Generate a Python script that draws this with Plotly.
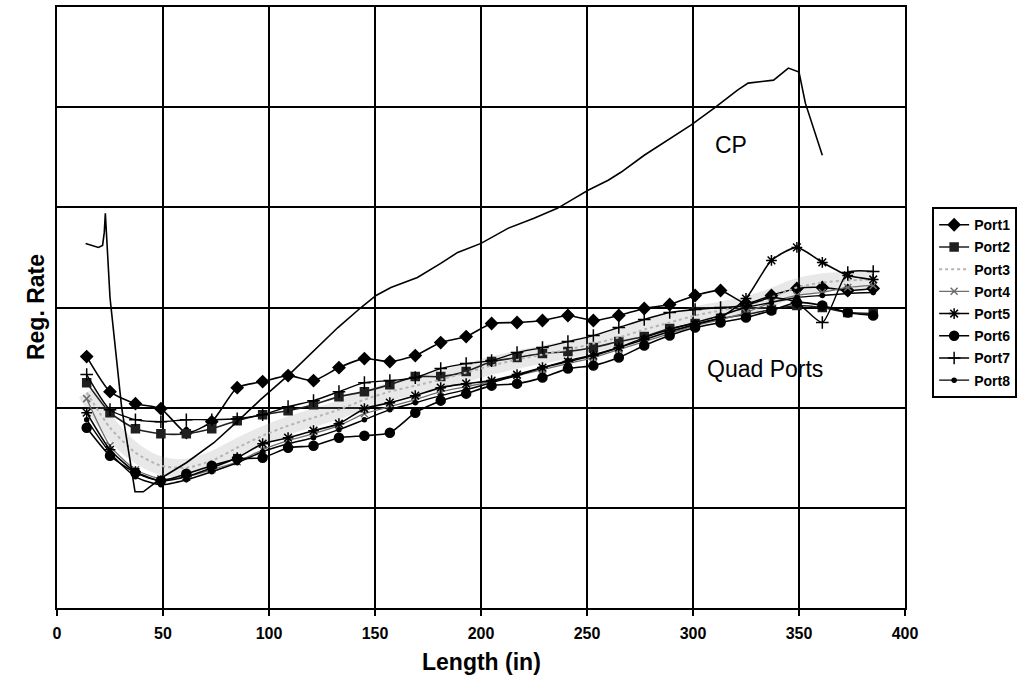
import plotly.graph_objects as go

# Measurement stations along the length (in)
length = [14, 25, 37, 49, 61, 73, 85, 97, 109, 121, 133, 145, 157, 169, 181, 193,
          205, 217, 229, 241, 253, 265, 277, 289, 301, 313, 325, 337, 349, 361, 373, 385]

# Regression rate per quad port
port1 = [2.51, 2.16, 2.04, 1.99, 1.75, 1.86, 2.20, 2.26, 2.32, 2.27, 2.40, 2.49, 2.46, 2.52, 2.65, 2.71,
         2.84, 2.85, 2.87, 2.92, 2.87, 2.92, 2.99, 3.03, 3.12, 3.17, 3.04, 3.12, 3.19, 3.20, 3.17, 3.19]
port2 = [2.25, 1.95, 1.79, 1.74, 1.74, 1.79, 1.87, 1.93, 1.97, 2.03, 2.11, 2.16, 2.23, 2.31, 2.31, 2.36,
         2.46, 2.50, 2.54, 2.56, 2.60, 2.66, 2.71, 2.79, 2.84, 2.89, 2.93, 2.98, 3.02, 3.00, 2.95, 2.94]
port3 = [2.15, 1.80, 1.55, 1.42, 1.40, 1.47, 1.60, 1.72, 1.82, 1.90, 1.98, 2.08, 2.16, 2.22, 2.28, 2.35,
         2.42, 2.48, 2.53, 2.58, 2.64, 2.70, 2.78, 2.85, 2.92, 2.97, 3.02, 3.10, 3.20, 3.25, 3.27, 3.28]
port4 = [2.09, 1.62, 1.38, 1.29, 1.31, 1.38, 1.46, 1.58, 1.67, 1.74, 1.82, 1.94, 2.01, 2.08, 2.16, 2.21,
         2.26, 2.32, 2.38, 2.44, 2.50, 2.58, 2.66, 2.74, 2.82, 2.88, 2.95, 3.05, 3.12, 3.15, 3.20, 3.22]
port5 = [1.95, 1.58, 1.36, 1.27, 1.31, 1.40, 1.50, 1.64, 1.70, 1.77, 1.84, 1.99, 2.05, 2.12, 2.20, 2.24,
         2.27, 2.33, 2.40, 2.46, 2.52, 2.60, 2.68, 2.76, 2.83, 2.90, 3.09, 3.47, 3.60, 3.45, 3.32, 3.28]
port6 = [1.80, 1.52, 1.35, 1.27, 1.34, 1.42, 1.49, 1.50, 1.60, 1.62, 1.70, 1.72, 1.75, 1.95, 2.07, 2.14,
         2.22, 2.24, 2.30, 2.39, 2.42, 2.50, 2.62, 2.72, 2.80, 2.85, 2.90, 2.97, 3.05, 3.02, 2.95, 2.92]
port7 = [2.33, 1.98, 1.88, 1.86, 1.88, 1.88, 1.89, 1.93, 2.01, 2.07, 2.16, 2.25, 2.27, 2.30, 2.39, 2.44,
         2.47, 2.55, 2.60, 2.66, 2.72, 2.80, 2.88, 2.95, 2.98, 3.00, 3.02, 3.10, 3.05, 2.85, 3.35, 3.36]
port8 = [1.88, 1.55, 1.31, 1.23, 1.28, 1.36, 1.45, 1.56, 1.64, 1.70, 1.78, 1.88, 1.98, 2.05, 2.12, 2.18,
         2.25, 2.32, 2.40, 2.47, 2.53, 2.60, 2.70, 2.78, 2.85, 2.92, 3.00, 3.05, 3.10, 3.12, 3.14, 3.15]

# Centre port (CP) trace, sampled at its own stations
cp_length = [13.5, 19.5, 21.5, 22.3, 22.8, 23.5, 25, 30.5, 36.8, 40.7, 49.4, 61, 74, 86, 96, 110,
             121, 132.5, 143.4, 150.5, 157.5, 170, 181, 189, 200, 212.7, 225, 236, 244, 250.5,
             260, 266, 277, 299, 310, 321, 326, 338, 345, 350, 353, 361]
cp_rate = [3.64, 3.60, 3.62, 3.75, 3.94, 3.70, 3.10, 2.00, 1.16, 1.16, 1.30, 1.45, 1.65, 1.88, 2.08, 2.34,
           2.57, 2.80, 3.00, 3.12, 3.20, 3.30, 3.44, 3.55, 3.64, 3.79, 3.89, 3.99, 4.09, 4.17,
           4.27, 4.35, 4.52, 4.82, 4.99, 5.17, 5.24, 5.27, 5.39, 5.35, 5.04, 4.52]

x_ticks = [0, 50, 100, 150, 200, 250, 300, 350, 400]

port_names = ["Port1", "Port2", "Port3", "Port4", "Port5", "Port6", "Port7", "Port8"]
port_values = [port1, port2, port3, port4, port5, port6, port7, port8]

styles = [
    dict(color="#000000", width=1.6, symbol="diamond", size=9, mode="lines+markers"),
    dict(color="#202020", width=1.6, symbol="square", size=8, mode="lines+markers"),
    dict(color="#b4b4b4", width=2.0, symbol="circle", size=1, mode="lines", dash="dot"),
    dict(color="#6e6e6e", width=1.3, symbol="x-thin-open", size=7, mode="lines+markers"),
    dict(color="#000000", width=1.6, symbol="asterisk-open", size=9, mode="lines+markers"),
    dict(color="#000000", width=1.6, symbol="circle", size=9, mode="lines+markers"),
    dict(color="#000000", width=1.4, symbol="cross-thin-open", size=9, mode="lines+markers"),
    dict(color="#000000", width=1.4, symbol="circle", size=4, mode="lines+markers"),
]

fig = go.Figure()

# soft scanner-style haze around the port band
fig.add_trace(go.Scatter(x=length, y=port3, mode="lines", showlegend=False, hoverinfo="skip",
                         line=dict(color="rgba(150,150,150,0.22)", width=18, shape="spline")))

for name, vals, st in zip(port_names, port_values, styles):
    fig.add_trace(go.Scatter(
        x=length, y=vals, name=name, mode=st["mode"], legendgroup=name,
        line=dict(color=st["color"], width=st["width"], dash=st.get("dash", "solid"), shape="spline",
                  smoothing=0.6),
        marker=dict(symbol=st["symbol"], size=st["size"], color=st["color"],
                    line=dict(color=st["color"], width=1.5)),
    ))

fig.add_trace(go.Scatter(x=cp_length, y=cp_rate, mode="lines", name="CP", showlegend=False,
                         line=dict(color="#000000", width=1.6)))

fig.add_annotation(x=318, y=4.62, xref="x", yref="y", text="CP", showarrow=False,
                   font=dict(family="Liberation Sans, Arial", size=23, color="#000000"))
fig.add_annotation(x=334, y=2.39, xref="x", yref="y", text="Quad Ports", showarrow=False,
                   font=dict(family="Liberation Sans, Arial", size=23, color="#000000"))

# axis titles
fig.add_annotation(x=-0.043, y=0.5, xref="paper", yref="paper", text="<b>Reg. Rate</b>",
                   textangle=-90, showarrow=False,
                   font=dict(family="Liberation Sans, Arial", size=23, color="#000000"))
fig.add_annotation(x=0.5, y=-0.09, xref="paper", yref="paper", text="<b>Length (in)</b>",
                   showarrow=False, yanchor="middle",
                   font=dict(family="Liberation Sans, Arial", size=23, color="#000000"))

fig.update_layout(
    width=1022, height=682,
    margin=dict(l=57, r=117, t=7, b=74, autoexpand=False),
    paper_bgcolor="white", plot_bgcolor="white",
    showlegend=True,
    legend=dict(x=1.032, y=0.667, xanchor="left", yanchor="top",
                bordercolor="#000000", borderwidth=2, bgcolor="white",
                font=dict(family="Liberation Sans, Arial", size=14, color="#000000", weight="bold"),
                tracegroupgap=1, itemwidth=30, traceorder="grouped"),
    xaxis=dict(range=[0, 400], tickvals=x_ticks, ticktext=[f"<b>{v}</b>" for v in x_ticks],
               showgrid=True, gridcolor="#000000", gridwidth=2,
               showline=True, linecolor="#000000", linewidth=2, mirror=True,
               ticks="outside", ticklen=6, tickwidth=2, tickcolor="#000000",
               ticklabelstandoff=4,
               tickfont=dict(family="Liberation Sans Narrow, Liberation Sans, Arial", size=16,
                             color="#000000"),
               zeroline=False),
    yaxis=dict(range=[0, 6], dtick=1, showticklabels=False,
               showgrid=True, gridcolor="#000000", gridwidth=2,
               showline=True, linecolor="#000000", linewidth=2, mirror=True,
               ticks="", zeroline=False),
)

fig.write_html("out.html")
